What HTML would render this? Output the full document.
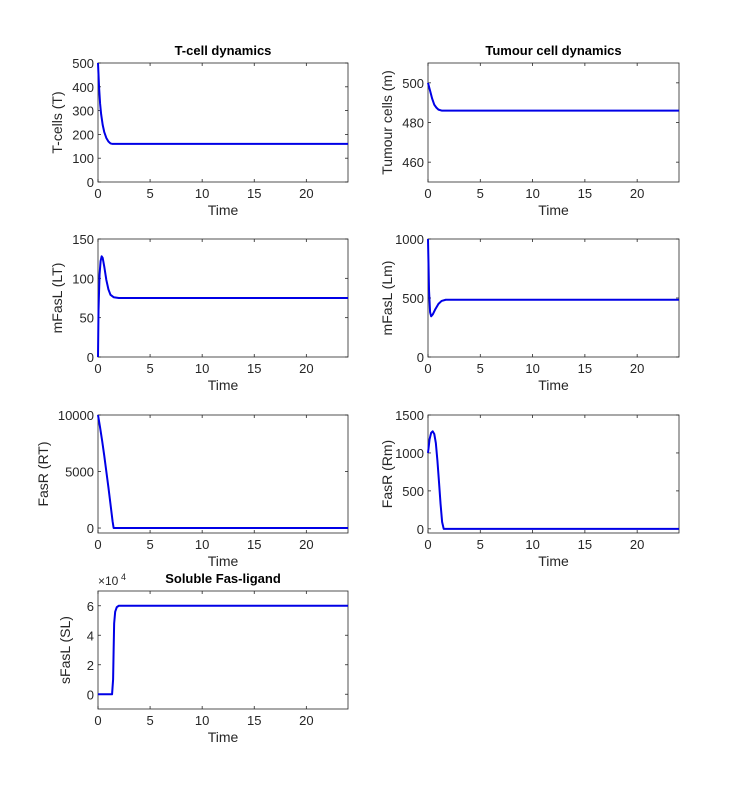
<!DOCTYPE html>
<html><head><meta charset="utf-8">
<style>
html,body{margin:0;padding:0;background:#fff;}
svg{display:block;font-family:"Liberation Sans",sans-serif;}
</style></head>
<body>
<svg id="fig" width="751" height="804"></svg>
<script>
const timeT=[0,0.1,0.2,0.3,0.45,0.6,0.8,1.0,1.2,1.4,24];
const valT=[500,400,330,285,240,210,185,170,162,160,160];
const timeM=[0,0.2,0.4,0.6,0.8,1.0,1.3,1.6,24];
const valM=[500,496,492,489,487.5,486.5,486,486,486];
const timeLT=[0,0.05,0.15,0.25,0.35,0.45,0.6,0.8,1.0,1.2,1.5,2,24];
const valLT=[0,60,105,122,128,126,115,98,86,79,76,75,75];
const timeLm=[0,0.1,0.2,0.3,0.45,0.7,1.0,1.3,1.7,24];
const valLm=[1000,560,380,345,360,405,450,475,485,485];
const timeRT=[0,0.2,0.4,0.6,0.8,1.0,1.2,1.4,1.5,24];
const valRT=[10000,8900,7700,6400,5000,3600,2100,600,0,0];
const timeRm=[0,0.15,0.3,0.45,0.6,0.75,0.9,1.05,1.2,1.35,1.5,24];
const valRm=[1000,1180,1265,1285,1250,1130,900,620,330,90,0,0];
const timeSL=[0,1.35,1.45,1.5,1.55,1.65,1.8,2.0,24];
const valSL=[0,0,10000,30000,48000,56000,59000,60000,60000];

const xTicks=[0,5,10,15,20];
const panels=[
 {name:'t-cell',x0:98,x1:348,y0:63,y1:182,ylim:[0,500],yt:[0,100,200,300,400,500],yl:'T-cells (T)',title:'T-cell dynamics',t:timeT,v:valT},
 {name:'tumour',x0:428,x1:679,y0:63,y1:182,ylim:[450,510],yt:[460,480,500],yl:'Tumour cells (m)',title:'Tumour cell dynamics',t:timeM,v:valM},
 {name:'mfasl-lt',x0:98,x1:348,y0:239,y1:357,ylim:[0,150],yt:[0,50,100,150],yl:'mFasL (LT)',t:timeLT,v:valLT},
 {name:'mfasl-lm',x0:428,x1:679,y0:239,y1:357,ylim:[0,1000],yt:[0,500,1000],yl:'mFasL (Lm)',t:timeLm,v:valLm},
 {name:'fasr-rt',x0:98,x1:348,y0:415,y1:533,ylim:[-440,10000],yt:[0,5000,10000],yl:'FasR (RT)',t:timeRT,v:valRT},
 {name:'fasr-rm',x0:428,x1:679,y0:415,y1:533,ylim:[-55,1500],yt:[0,500,1000,1500],yl:'FasR (Rm)',t:timeRm,v:valRm},
 {name:'sfasl',x0:98,x1:348,y0:591,y1:709,ylim:[-10000,70000],yt:[0,20000,40000,60000],yl:'sFasL (SL)',title:'Soluble Fas-ligand',t:timeSL,v:valSL,scale:1e4}
];
const NS='http://www.w3.org/2000/svg';
const fig=document.getElementById('fig');
function mk(tag,attrs,parent,text){const e=document.createElementNS(NS,tag);for(const k in attrs)e.setAttribute(k,attrs[k]);if(text!==undefined)e.textContent=text;parent.appendChild(e);return e;}
panels.forEach(p=>{
 const g=mk('g',{},fig);
 
 
 const xs=t=>p.x0+(t/24)*(p.x1-p.x0);
 const ys=v=>p.y1-(v-p.ylim[0])/(p.ylim[1]-p.ylim[0])*(p.y1-p.y0);
 const box=mk('rect',{x:p.x0,y:p.y0,width:p.x1-p.x0,height:p.y1-p.y0,fill:'#fff',stroke:'#262626','stroke-width':0.8},g);
 
 
 xTicks.forEach(t=>{
  const x=xs(t);
  mk('line',{x1:x,x2:x,y1:p.y1,y2:p.y1-3,stroke:'#262626','stroke-width':0.8},g);
  mk('line',{x1:x,x2:x,y1:p.y0,y2:p.y0+3,stroke:'#262626','stroke-width':0.8},g);
  const tl=mk('text',{x:x,y:p.y1+16,'text-anchor':'middle','font-size':13,fill:'#262626'},g,String(t));
  
  
 });
 p.yt.forEach(v=>{
  const y=ys(v);
  mk('line',{x1:p.x0,x2:p.x0+3,y1:y,y2:y,stroke:'#262626','stroke-width':0.8},g);
  mk('line',{x1:p.x1,x2:p.x1-3,y1:y,y2:y,stroke:'#262626','stroke-width':0.8},g);
  const tl=mk('text',{x:p.x0-4,y:y+5,'text-anchor':'end','font-size':13,fill:'#262626'},g,String(p.scale?v/p.scale:v));
  
  
 });
 const xl=mk('text',{x:(p.x0+p.x1)/2,y:p.y1+33,'text-anchor':'middle','font-size':14,fill:'#262626'},g,'Time');
 
 
 const yx=p.x0-(p.name==='fasr-rt'?50:(p.name==='sfasl'?28:36));
 const yl=mk('text',{x:yx,y:(p.y0+p.y1)/2,'text-anchor':'middle','font-size':14,fill:'#262626',transform:`rotate(-90 ${yx} ${(p.y0+p.y1)/2})`},g,p.yl);
 
 
 if(p.title){
  const tt=mk('text',{x:(p.x0+p.x1)/2,y:p.y0-8,'text-anchor':'middle','font-size':13,'font-weight':'bold',fill:'#000'},g,p.title);
  
  
 }
 if(p.scale){
  const ex=mk('text',{x:p.x0,y:p.y0-6,'font-size':12,fill:'#262626'},g,'\u00d710');
  
  
  mk('text',{x:p.x0+23,y:p.y0-11,'font-size':9,fill:'#262626'},g,'4');
 }
 const d=p.t.map((t,i)=>(i?'L':'M')+xs(t).toFixed(2)+','+ys(p.v[i]).toFixed(2)).join('');
 const path=mk('path',{d:d,fill:'none',stroke:'#0000e6','stroke-width':2,'stroke-linejoin':'round'},g);
 
 
});
</script>
</body></html>
